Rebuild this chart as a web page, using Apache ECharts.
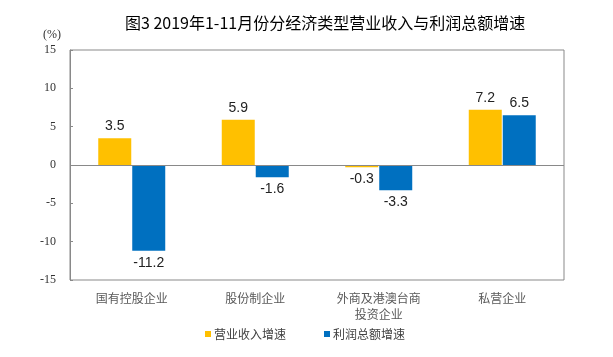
<!DOCTYPE html>
<html>
<head>
<meta charset="utf-8">
<script src="https://cdn.jsdelivr.net/npm/echarts@6/dist/echarts.min.js"></script>
<style>html,body{margin:0;padding:0;background:#fff;}#c{width:613px;height:357px;}</style>
</head>
<body>
<div id="c"></div>
<script>
const categories = ['国有控股企业', '股份制企业', '外商及港澳台商\n投资企业', '私营企业'];
const revenueGrowth = [3.5, 5.9, -0.3, 7.2];
const profitGrowth = [-11.2, -1.6, -3.3, 6.5];
const seriesNames = ['营业收入增速', '利润总额增速'];
const yTicks = { min: -15, max: 15, interval: 5 };

const labelStyle = { show: true, fontFamily: 'Liberation Sans', fontSize: 14, color: '#222', distance: 5 };
function toData(arr) {
  return arr.map(v => ({ value: v, label: { position: v >= 0 ? 'top' : 'bottom' } }));
}

const chart = echarts.init(document.getElementById('c'), null, { renderer: 'canvas' });
chart.setOption({
  animation: false,
  backgroundColor: '#fff',
  title: {
    text: '图3 2019年1-11月份分经济类型营业收入与利润总额增速',
    left: 120, top: 10,
    textStyle: { fontFamily: 'Noto Sans CJK SC', fontSize: 16, fontWeight: 'normal', color: '#000' }
  },
  graphic: [{
    type: 'text', left: 43, top: 29,
    style: { text: '(%)', font: '12px "Liberation Serif"', fill: '#333' }
  }],
  legend: {
    left: 200, top: 323,
    itemWidth: 6, itemHeight: 6, itemGap: 38,
    icon: 'rect',
    textStyle: { fontFamily: 'Noto Sans CJK SC', fontSize: 12, color: '#404040', padding: [0, 0, 0, -2] },
    data: seriesNames
  },
  grid: { left: 70, right: 49, top: 50, bottom: 77, show: true, borderColor: '#898989', borderWidth: 1, containLabel: false },
  xAxis: {
    type: 'category', data: categories,
    axisLine: { show: false }, axisTick: { show: false },
    axisLabel: { fontFamily: 'Noto Sans CJK SC', fontSize: 12, color: '#595959', margin: 10, lineHeight: 16, interval: 0 }
  },
  yAxis: {
    type: 'value', min: yTicks.min, max: yTicks.max, interval: yTicks.interval,
    splitLine: { show: false },
    axisLine: { show: true, lineStyle: { color: '#898989' } },
    axisTick: { show: true, inside: true, length: 3, lineStyle: { color: '#898989' } },
    axisLabel: { fontFamily: 'Liberation Serif', fontSize: 12, color: '#333', margin: 14 }
  },
  series: [
    {
      name: seriesNames[0], type: 'bar', data: toData(revenueGrowth),
      barWidth: 33, barGap: '3%',
      itemStyle: { color: '#FFC000' }, label: labelStyle,
      markLine: { silent: true, symbol: 'none', label: { show: false },
        lineStyle: { color: '#898989', type: 'solid', width: 1 }, data: [{ yAxis: 0 }] }
    },
    {
      name: seriesNames[1], type: 'bar', data: toData(profitGrowth),
      barWidth: 33, barGap: '3%',
      itemStyle: { color: '#0070C0' }, label: labelStyle
    }
  ]
});
</script>
</body>
</html>
